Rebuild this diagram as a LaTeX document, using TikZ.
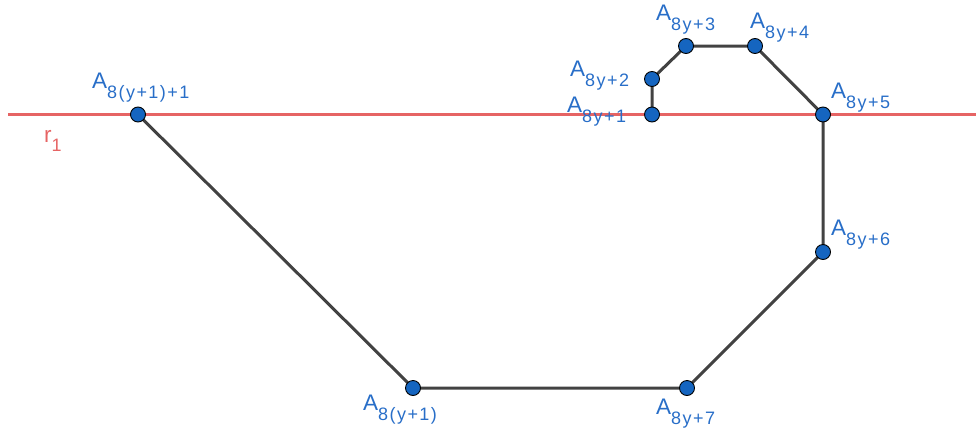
\documentclass[tikz,border=0pt]{standalone}
\usepackage{fontspec}
\setmainfont{Liberation Sans}
\definecolor{ptblue}{RGB}{21,101,192}
\definecolor{lblblue}{RGB}{40,110,200}
\definecolor{segcol}{RGB}{66,66,66}
\definecolor{rline}{RGB}{230,100,100}
\newcommand{\ptlabel}[1]{\fontsize{22.5}{26}\selectfont A\raisebox{-10.5pt}{\fontsize{18}{20}\selectfont\addfontfeature{LetterSpace=8}#1}}
\tikzset{
  pt/.style={circle,fill=ptblue,draw=black,line width=0.9pt,minimum size=15pt,inner sep=0pt},
  seg/.style={draw=segcol,line width=3pt},
  lbl/.style={anchor=base west,inner sep=0pt,text=lblblue},
}
\begin{document}
\begin{tikzpicture}[x=1pt,y=-1pt]
\useasboundingbox (0,0) rectangle (976,434);
% red line r1
\coordinate (rL) at (8,114.5);
\coordinate (rR) at (976,114.5);
\draw[rline,line width=3.4pt] (rL) -- (rR);
\node[anchor=base west,inner sep=0pt,text=rline] (r1) at (44,142) {\fontsize{22.5}{26}\selectfont r\raisebox{-9pt}{\fontsize{18}{20}\selectfont 1}};
% points
\coordinate (P0) at (138,114.5);
\coordinate (P1) at (652,114.5);
\coordinate (P2) at (652,79);
\coordinate (P3) at (686,46);
\coordinate (P4) at (755,46);
\coordinate (P5) at (823,114.5);
\coordinate (P6) at (823,252);
\coordinate (P7) at (687,388);
\coordinate (P8) at (413,388);
% segments
\draw[seg] (P1) -- (P2) -- (P3) -- (P4) -- (P5) -- (P6) -- (P7) -- (P8) -- (P0);
% dots
\foreach \p in {P0,P1,P2,P3,P4,P5,P6,P7,P8}
  \node[pt] (d\p) at (\p) {};
% labels
\node[lbl] (l0) at (92,88) {\ptlabel{8(y+1)+1}};
\node[lbl] (l1) at (567,112) {\ptlabel{8y+1}};
\node[lbl] (l2) at (570,76) {\ptlabel{8y+2}};
\node[lbl] (l3) at (656,20) {\ptlabel{8y+3}};
\node[lbl] (l4) at (750,28) {\ptlabel{8y+4}};
\node[lbl] (l5) at (831,98) {\ptlabel{8y+5}};
\node[lbl] (l6) at (831,235) {\ptlabel{8y+6}};
\node[lbl] (l7) at (656,414) {\ptlabel{8y+7}};
\node[lbl] (l8) at (363,410) {\ptlabel{8(y+1)}};
\end{tikzpicture}
\end{document}
